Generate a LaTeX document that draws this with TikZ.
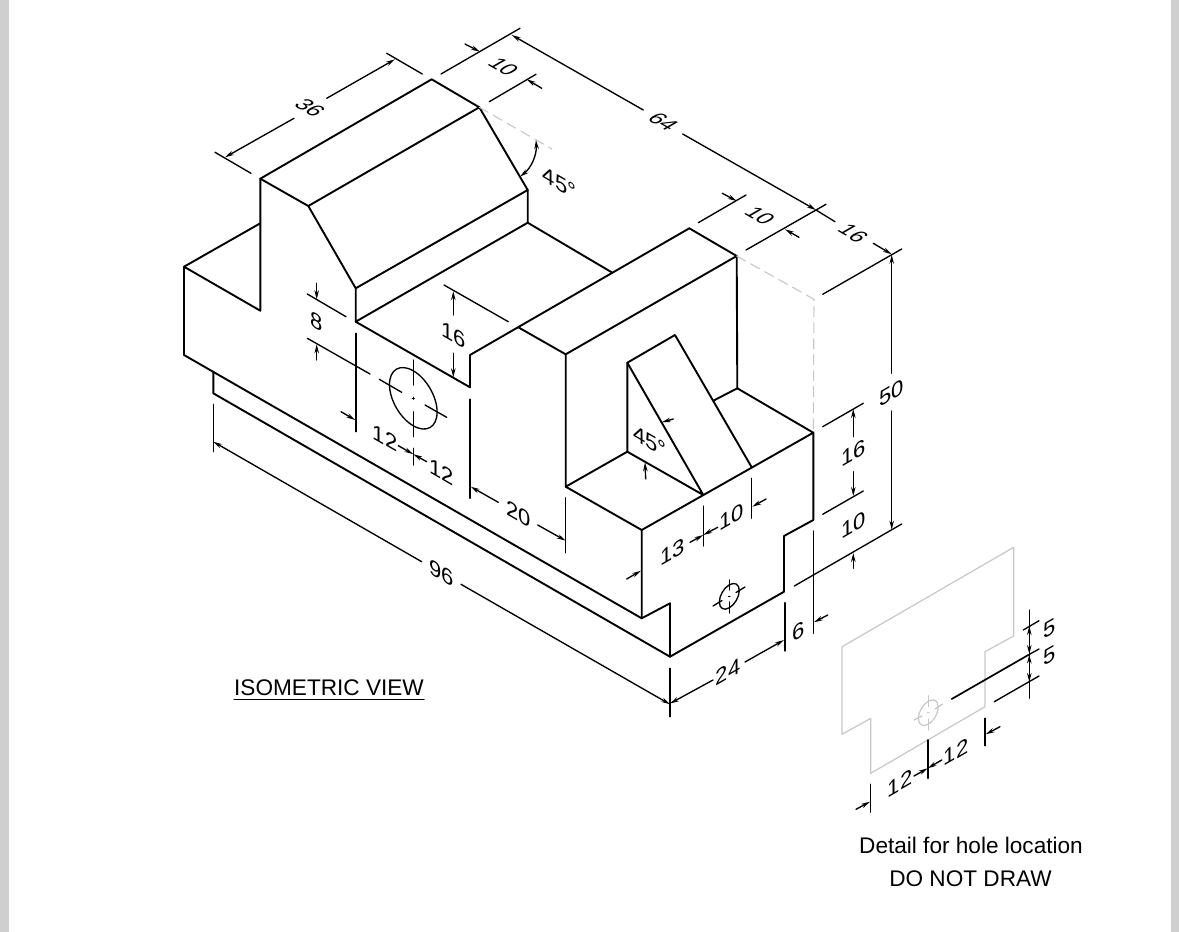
\documentclass[tikz,border=0pt]{standalone}
\usepackage{fontspec}
\setmainfont{Liberation Sans}
\usetikzlibrary{arrows.meta}
\definecolor{ffcfcf}{rgb}{0.81,0.81,0.81}
\definecolor{ccbcbc}{rgb}{0.78,0.78,0.78}
\tikzset{
  obj/.style={line width=1.9pt},
  dimn/.style={line width=1.35pt},
  dimb/.style={line width=1.7pt},
  hid/.style={line width=1.1pt,ccbcbc,dash pattern=on 10pt off 6pt},
  detl/.style={line width=1.2pt,ccbcbc},
  leftiso/.style={inner sep=0pt,font=\fontsize{22}{24}\selectfont,yslant=-0.577},
  rightiso/.style={inner sep=0pt,font=\fontsize{22}{24}\selectfont,yslant=0.577},
  topiso/.style={inner sep=0pt,font=\fontsize{22}{24}\selectfont,cm={0.866,-0.5,0.866,0.5,(0,0)}},
  plain/.style={inner sep=0pt,font=\fontsize{22.6}{24}\selectfont}
}
\begin{document}
\begin{tikzpicture}[line cap=round,line join=round,>={Stealth[length=9pt,width=4.5pt]},x=1.0pt,y=-1.0pt]
\useasboundingbox (0,0) rectangle (1179,932);
\fill[ffcfcf] (0,0) rectangle (9,932);
\fill[ffcfcf] (1171,0) rectangle (1179,932);
% left block
\draw[obj] (431.7,79.3)-- (479.3,107.3)-- (527.7,190)-- (527.7,222.7)-- (355.7,321.7)-- (355.7,288.3)-- (308.3,206)-- (260.3,178.7)-- cycle;
\draw[obj] (308.3,206)-- (479.3,107.3);
\draw[obj] (355.7,288.3)-- (527.7,190);
\draw[obj] (260.3,178.7)-- (260.3,310.7)-- (184,266.7)-- (260.3,223.3);
\draw[obj] (184,266.7)-- (184,355)-- (641.7,618.3);
\draw[obj] (527.7,222.7)-- (611.7,272.3);
\draw[obj] (355.7,321.7)-- (470,387.3)-- (470,355)-- (689.3,228.3)-- (736.7,256)-- (565.7,354.3)-- (518.3,327.3);
% right block
\draw[obj] (565.7,354.3)-- (565.7,486.7)-- (627.3,451.7)-- (627.3,362.7)-- (675,335)-- (751.7,467.3);
\draw[obj] (627.3,362.7)-- (703.3,495)-- (627.3,451.7);
\draw[obj] (565.7,486.7)-- (641.7,530)-- (813.3,432.7)-- (737.3,388.3)-- (713.3,400.7);
\draw[obj] (736.7,256)-- (737.3,388.3);
\draw[obj] (641.7,530)-- (641.7,618.3)-- (670,603.3)-- (670,656.7)-- (784,591.7)-- (784,536)-- (813.3,520)-- (813.3,432.7);
\draw[obj] (213.3,371.7)-- (213.3,393.3)-- (670,656.7);
% construction lines
\draw[hid] (479.3,107.3)-- (552,149);
\draw[hid] (736.7,256)-- (814,299.3)-- (813.3,432.7);
% hole
\draw[dimn,shift={(413.3,398.3)},yslant=-0.577,xscale=0.866] (0,0) circle (27.5);
\draw[dimn] (413.3,360)-- (413.3,385);
\draw[dimn] (413.3,411.7)-- (413.3,436.7);
\draw[dimn] (413.3,448.3)-- (413.3,465);
\draw[dimn] (412.3,398.3)-- (414.3,398.3);
\draw[dimn] (413.3,397.3)-- (413.3,399.3);
\draw[dimn] (379.3,379.3)-- (401.7,392.3);
\draw[dimn] (425,405)-- (446.7,417.3);
% small hole on the end
\draw[dimn,shift={(729.3,596.3)},yslant=0.577,xscale=0.866] (0,0) circle (11.5);
\draw[dimn] (729.3,580)-- (729.3,590);
\draw[dimn] (729.3,602)-- (729.3,613);
\draw[dimn] (713,606)-- (722,600.5);
\draw[dimn] (736,592.5)-- (745,587);
\draw[dimn] (728.5,596.3)-- (730,596.3);
% 36
\draw[dimn] (215,152.3)-- (251,173.3);
\draw[dimn] (386.7,53.3)-- (422.3,74);
\draw[dimn,<-] (225,157.3)-- (294,118.3);
\draw[dimn,->] (326.7,98.3)-- (395,59.3);
\node[topiso] (lblA) at (310,108) {36};
% 10 on the left block
\draw[dimn] (441,74)-- (520,28.3);
\draw[dimn] (489.3,101.7)-- (536,74.3);
\draw[dimn,->] (465,44)-- (480,51.7);
\draw[dimn,->] (541.7,88.3)-- (526.7,79.3);
\node[topiso] (lblB) at (503.5,66.7) {10};
% 64
\draw[dimn,<-] (511.7,35)-- (643.3,110);
\draw[dimn,->] (682.7,134)-- (816,210);
\draw[dimn] (816,210)-- (835,221.7);
\node[topiso] (lblC) at (663.3,121.7) {64};
% 10 on the right block
\draw[dimn] (698.3,222.7)-- (746,195);
\draw[dimn] (746,250)-- (826,204.3);
\draw[dimn,->] (722.3,193.3)-- (736.7,201);
\draw[dimn,->] (799,237.3)-- (785,229.3);
\node[topiso] (lblD) at (760,215.7) {10};
% 16 and 50
\draw[dimn,->] (873.3,243.3)-- (891.7,254.3);
\node[topiso] (lblE) at (853.3,233.3) {16};
\draw[dimn] (822.7,294.3)-- (901.7,249);
\draw[dimn,<-] (891.7,254.8)-- (891.7,373.3);
\draw[dimn,->] (891.7,411)-- (891.7,529.7);
\draw[dimn] (794.3,586)-- (901.7,524);
\node[rightiso] (lblF) at (891.7,392.7) {50};
% 16 and 10 at the right
\draw[dimn] (822.7,426.7)-- (863.3,403.3);
\draw[dimn] (822.7,514.3)-- (863.3,491);
\draw[dimn,<-] (853.3,409)-- (853.3,436.7);
\draw[dimn,->] (853.3,471.7)-- (853.3,496);
\node[rightiso] (lblG) at (853.3,452.7) {16};
\node[rightiso] (lblH) at (853.3,525) {10};
\draw[dimn,->] (853.3,568.3)-- (853.3,553);
% 6 and 24
\draw[dimn] (785,602.7)-- (785,651);
\draw[dimn] (813.3,531)-- (813.3,633.3);
\draw[dimn,->] (827.7,615)-- (814,622.3);
\node[rightiso] (lblI) at (798.3,631) {6};
\draw[dimn] (670,668.3)-- (670,716.7);
\draw[dimn,<-] (670,703.5)-- (713,680);
\draw[dimn,->] (745,662)-- (784,640);
\node[rightiso] (lblJ) at (728,672) {24};
% 96
\draw[dimn] (213.3,404.3)-- (213.3,451.7);
\draw[dimn,<-] (213.3,441.7)-- (421.7,561.7);
\draw[dimn,->] (461,584.3)-- (670,704.3);
\node[leftiso] (lblK) at (441.7,573.3) {96};
% 20
\draw[dimn] (470,399.3)-- (470,498.3);
\draw[dimn] (565.7,497.7)-- (565.7,552.7);
\draw[dimn,<-] (470.7,486.7)-- (498.3,502.3);
\draw[dimn,->] (537.7,525)-- (565.7,540.7);
\node[leftiso] (lblL) at (518.3,514.3) {20};
% 16 in the slot
\draw[dimn] (444,285)-- (508.3,321.7);
\draw[dimn,->] (453.3,315)-- (453.3,291.2);
\draw[dimn,->] (453.3,353.3)-- (453.3,377.3);
\node[leftiso] (lblM) at (453.3,335) {16};
% 8
\draw[dimn] (307.3,294)-- (346,316.7);
\draw[dimn] (307.3,338.3)-- (370,374);
\draw[dimn,->] (316.7,283.3)-- (316.7,299.3);
\draw[dimn,->] (316.7,360)-- (316.7,344.3);
\node[leftiso] (lblN) at (316.7,321.7) {8};
\draw[dimn] (356,333.3)-- (356,431.7);
\draw[dimn,->] (341,411.7)-- (355.3,420);
% 12 12 under the hole
\draw[dimn,->] (398.3,445.7)-- (413.3,454.2);
\draw[dimn,->] (426.7,461.7)-- (413.3,454.2);
\node[leftiso] (lblO) at (385,438.3) {12};
\node[leftiso] (lblP) at (441.7,471.7) {12};
% 13 10 on the end
\draw[dimn] (703.3,506)-- (703.3,546);
\draw[dimn] (751.7,478.3)-- (751.7,518.3);
\draw[dimn,->] (766,499)-- (752.3,506.7);
\draw[dimn,->] (717.7,527.3)-- (703.3,535);
\draw[dimn,->] (690,542.3)-- (703.3,535);
\draw[dimn,->] (626.7,579)-- (641,570.7);
\node[rightiso] (lblQ) at (731.7,516.7) {10};
\node[rightiso] (lblR) at (672.7,551.7) {13};
% angles
\draw[dimn,<->] (536,140) .. controls (537,155) and (531,168) .. (520,176.7);
\node[leftiso] (lblS) at (559.5,183) {45°};
\draw[dimn,->] (673.3,419)-- (661.7,422.3);
\draw[dimn,->] (645.7,479)-- (645,462.3);
\node[leftiso] (lblT) at (650,441.7) {45°};
% detail
\draw[detl] (1013.7,547.3)-- (842,646.7)-- (842,734.3)-- (870.7,718.3)-- (870.7,773.3)-- (985,706.7)-- (985,651.7)-- (1013.7,636)-- cycle;
\draw[detl,shift={(928.3,712.7)},yslant=0.577,xscale=0.866] (0,0) circle (11.5);
\draw[detl] (928.3,695.7)-- (928.3,706.5);
\draw[detl] (928.3,719)-- (928.3,730);
\draw[detl] (914,720)-- (922,716);
\draw[detl] (935,709)-- (942.7,704);
\draw[detl] (927.5,712.7)-- (929,712.7);
\draw[dimb] (951.7,699)-- (1028.3,655);
\draw[dimn] (1028.3,655)-- (1039,649);
\draw[dimn] (994.3,701.7)-- (1039,676);
\draw[dimn] (1023.3,630)-- (1039,620.7);
\draw[dimn] (1029.3,610)-- (1029.3,698.3);
\draw[dimn,<->] (1029.3,626)-- (1029.3,654);
\draw[dimn,<->] (1029.3,654.5)-- (1029.3,682);
\node[rightiso] (lblU) at (1050,628.3) {5};
\node[rightiso] (lblV) at (1050,656) {5};
\draw[dimb] (927.7,740)-- (927.7,778.3);
\draw[dimn] (985,718.3)-- (985,745.7);
\draw[dimn] (870.7,784.3)-- (870.7,812.3);
\draw[dimn,->] (1000,726.7)-- (985.7,734.3);
\draw[dimn,->] (856,809.3)-- (870,801.7);
\draw[dimn,->] (914,776)-- (927.7,768.3);
\draw[dimn,->] (941.7,760)-- (927.7,768.3);
\node[rightiso] (lblW) at (900,783.3) {12};
\node[rightiso] (lblX) at (956,751.7) {12};
% titles
\node[plain] (lblY) at (329,688) {ISOMETRIC VIEW};
\draw[line width=1.5pt] (234,699.5)-- (424,699.5);
\node[plain] (lblZ) at (971,845.5) {Detail for hole location};
\node[plain] (lblAA) at (970.5,879) {DO NOT DRAW};
\end{tikzpicture}
\end{document}
